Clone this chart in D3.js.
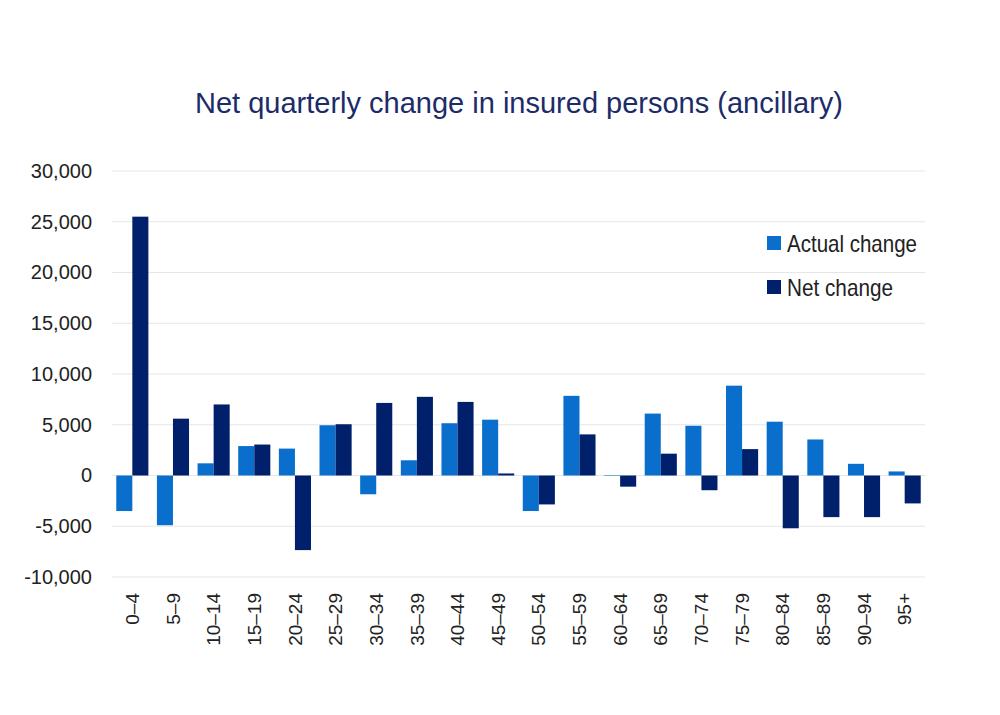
<!DOCTYPE html>
<html>
<head>
<meta charset="utf-8">
<script src="https://cdn.jsdelivr.net/npm/d3@7"></script>
<style>
  body { margin:0; background:#fff; }
  text { font-family: "Liberation Sans", Arial, sans-serif; }
</style>
</head>
<body>
<script>
var width = 1000, height = 715;

// data
var ageGroups = ["0–4","5–9","10–14","15–19","20–24","25–29","30–34","35–39","40–44","45–49",
                 "50–54","55–59","60–64","65–69","70–74","75–79","80–84","85–89","90–94","95+"];
var actualChange = [-3500,-4900,1200,2900,2650,4950,-1850,1500,5150,5500,
                    -3500,7850,50,6100,4900,8850,5300,3550,1150,400];
var netChange = [25500,5600,7000,3050,-7350,5050,7150,7750,7250,200,
                 -2850,4050,-1100,2150,-1450,2600,-5200,-4100,-4100,-2750];
var yTicks = [-10000,-5000,0,5000,10000,15000,20000,25000,30000];
var seriesNames = ["Actual change","Net change"];
var colors = ["#0A6FCC","#00206B"];

var margin = {left:112, right:75, top:171, bottom:138};
var innerW = width - margin.left - margin.right;
var innerH = height - margin.top - margin.bottom;

var svg = d3.select("body").append("svg")
    .attr("width", width)
    .attr("height", height);

svg.append("text")
    .attr("x", 519)
    .attr("y", 113)
    .attr("text-anchor", "middle")
    .style("font-size", "29px")
    .attr("fill", "#1B2C68")
    .text("Net quarterly change in insured persons (ancillary)");

var g = svg.append("g")
    .attr("transform", "translate(" + margin.left + "," + margin.top + ")");

var x = d3.scaleBand().domain(ageGroups).range([0, innerW]).paddingInner(0.21).paddingOuter(0.105);
var x1 = d3.scaleBand().domain([0,1]).range([0, x.bandwidth()]);
var y = d3.scaleLinear().domain([-10000, 30000]).range([innerH, 0]);

// gridlines
g.selectAll(".grid").data(yTicks).enter().append("line")
    .attr("x1", 0).attr("x2", innerW)
    .attr("y1", function(d){ return y(d); })
    .attr("y2", function(d){ return y(d); })
    .attr("stroke", "#e6e6e6")
    .attr("stroke-width", 1.2);

// y axis
var fmt = d3.format(",");
var yAxis = d3.axisLeft(y).tickValues(yTicks).tickSize(0).tickPadding(20)
    .tickFormat(function(d){ return fmt(d).replace("\u2212", "-"); });
var ya = g.append("g").call(yAxis);
ya.select(".domain").remove();
ya.selectAll("text").style("font-size", "20px").attr("fill", "#222");

// bars
var series = [actualChange, netChange];
series.forEach(function(vals, s){
  g.selectAll(".bar" + s).data(vals).enter().append("rect")
      .attr("class", "bar" + s)
      .attr("x", function(d, i){ return x(ageGroups[i]) + x1(s); })
      .attr("width", x1.bandwidth())
      .attr("y", function(d){ return y(Math.max(0, d)); })
      .attr("height", function(d){ return Math.abs(y(d) - y(0)); })
      .attr("fill", colors[s]);
});

// x axis labels (rotated)
var xAxis = d3.axisBottom(x).tickSize(0).tickPadding(0);
var xa = g.append("g").attr("transform", "translate(0," + (innerH + 16) + ")").call(xAxis);
xa.select(".domain").remove();
xa.selectAll("text")
    .attr("transform", "rotate(-90)")
    .attr("x", 0).attr("y", 0).attr("dy", "0.35em")
    .style("text-anchor", "end")
    .style("font-size", "19px")
    .attr("fill", "#222");

// legend
var legend = svg.append("g").attr("transform", "translate(767,236)");
var legendW = [130, 106];
seriesNames.forEach(function(name, i){
  var row = legend.append("g").attr("transform", "translate(0," + (i * 44) + ")");
  row.append("rect").attr("width", 14).attr("height", 14).attr("fill", colors[i]);
  row.append("text").attr("x", 20).attr("y", 16)
      .style("font-size", "24px").attr("fill", "#222")
      .attr("textLength", legendW[i]).attr("lengthAdjust", "spacingAndGlyphs")
      .text(name);
});
</script>
</body>
</html>
